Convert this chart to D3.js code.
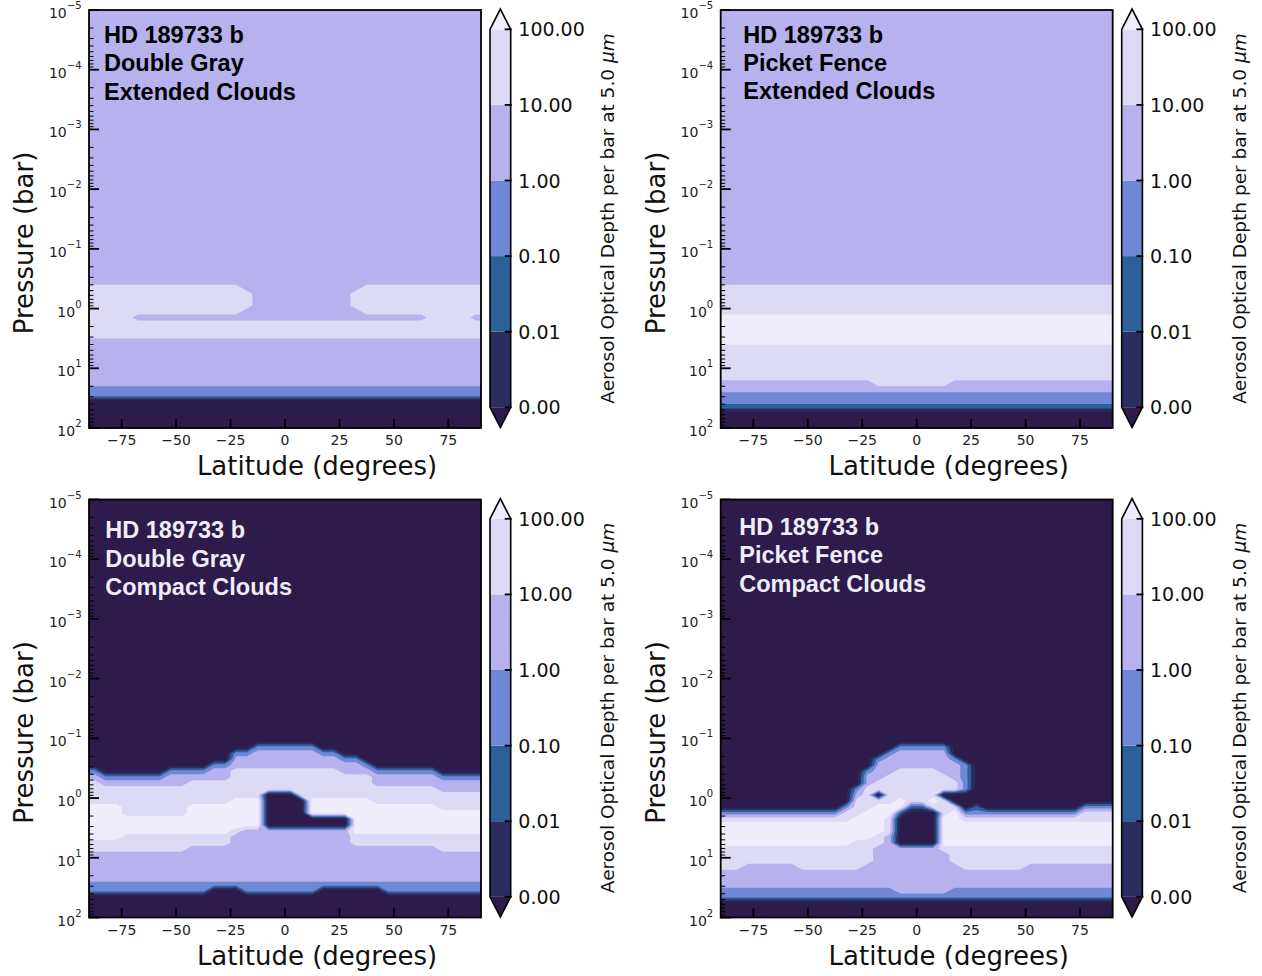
<!DOCTYPE html>
<html>
<head>
<meta charset="utf-8">
<script src="https://cdn.jsdelivr.net/npm/d3@7"></script>
<style>
  body { margin: 0; background: #fff; }
  svg { display: block; font-family: "DejaVu Sans", sans-serif; }
</style>
</head>
<body>
<div id="chart"></div>
<script>
// cell edges of the grid: latitude (deg) and log10 pressure (bar)
// the first pressure row spans the whole (uniform) upper atmosphere
const latEdges = [-90, -85, -80, -75, -70, -65, -60, -55, -50, -45, -40, -35, -30, -25, -20, -15, -10, -5,
  0, 5, 10, 15, 20, 25, 30, 35, 40, 45, 50, 55, 60, 65, 70, 75, 80, 85, 90];
const logPEdges = [-5, -1.5, -1.4, -1.3, -1.2, -1.1, -1.0, -0.9, -0.8, -0.7, -0.6, -0.5, -0.4, -0.3, -0.2, -0.1,
  0, 0.1, 0.2, 0.3, 0.4, 0.5, 0.6, 0.7, 0.8, 0.9, 1.0, 1.1, 1.2, 1.3, 1.4, 1.5, 1.6, 1.7, 1.8, 1.9, 2.0];

// colour levels of the optical depth (per bar at 5 micron)
const levels = [0.001, 0.01, 0.1, 1, 10, 100];
const bandColors = ["#2c1b4b", "#2a2d5e", "#2d5f99", "#6e88d6", "#b7b1ee", "#dddaf6", "#efedfb"];

const latTicks = [-75, -50, -25, 0, 25, 50, 75];
const pressureTicks = [1e-5, 1e-4, 1e-3, 1e-2, 1e-1, 1, 10, 100];

// band index read off each cell (0 = below 0.001 ... 6 = above 100), one string per pressure row,
// columns grouped by 30 degrees of latitude
const gridDoubleGrayExtended = [
  "444444 444444 444444 444444 444444 444444",
  "444444 444444 444444 444444 444444 444444",
  "444444 444444 444444 444444 444444 444444",
  "444444 444444 444444 444444 444444 444444",
  "444444 444444 444444 444444 444444 444444",
  "444444 444444 444444 444444 444444 444444",
  "444444 444444 444444 444444 444444 444444",
  "444444 444444 444444 444444 444444 444444",
  "444444 444444 444444 444444 444444 444444",
  "444444 444444 444444 444444 444444 444444",
  "444444 444444 444444 444444 444444 444444",
  "444444 444444 444444 444444 444444 444444",
  "555555 555555 554444 444444 455555 555555",
  "555555 555555 555444 444444 555555 555555",
  "555555 555555 555444 444444 555555 555555",
  "555555 555555 555444 444444 555555 555555",
  "555555 555555 554444 444444 455555 555555",
  "555544 444444 444444 444444 444444 455554",
  "555555 555555 555555 555555 555555 555555",
  "555555 555555 555555 555555 555555 555555",
  "555555 555555 555555 555555 555555 555555",
  "444444 444444 444444 444444 444444 444444",
  "444444 444444 444444 444444 444444 444444",
  "444444 444444 444444 444444 444444 444444",
  "444444 444444 444444 444444 444444 444444",
  "444444 444444 444444 444444 444444 444444",
  "444444 444444 444444 444444 444444 444444",
  "444444 444444 444444 444444 444444 444444",
  "444444 444444 444444 444444 444444 444444",
  "333333 333333 333333 333333 333333 333333",
  "333333 333333 333333 333333 333333 333333",
  "000000 000000 000000 000000 000000 000000",
  "000000 000000 000000 000000 000000 000000",
  "000000 000000 000000 000000 000000 000000",
  "000000 000000 000000 000000 000000 000000",
  "000000 000000 000000 000000 000000 000000"
];

const gridPicketFenceExtended = [
  "444444 444444 444444 444444 444444 444444",
  "444444 444444 444444 444444 444444 444444",
  "444444 444444 444444 444444 444444 444444",
  "444444 444444 444444 444444 444444 444444",
  "444444 444444 444444 444444 444444 444444",
  "444444 444444 444444 444444 444444 444444",
  "444444 444444 444444 444444 444444 444444",
  "444444 444444 444444 444444 444444 444444",
  "444444 444444 444444 444444 444444 444444",
  "444444 444444 444444 444444 444444 444444",
  "444444 444444 444444 444444 444444 444444",
  "444444 444444 444444 444444 444444 444444",
  "555555 555555 555555 555555 555555 555555",
  "555555 555555 555555 555555 555555 555555",
  "555555 555555 555555 555555 555555 555555",
  "555555 555555 555555 555555 555555 555555",
  "555555 555555 555555 555555 555555 555555",
  "666666 666666 666666 666666 666666 666666",
  "666666 666666 666666 666666 666666 666666",
  "666666 666666 666666 666666 666666 666666",
  "666666 666666 666666 666666 666666 666666",
  "666666 666666 666666 666666 666666 666666",
  "555555 555555 555555 555555 555555 555555",
  "555555 555555 555555 555555 555555 555555",
  "555555 555555 555555 555555 555555 555555",
  "555555 555555 555555 555555 555555 555555",
  "555555 555555 555555 555555 555555 555555",
  "555555 555555 555555 555555 555555 555555",
  "444444 444444 445555 555444 444444 444444",
  "444444 444444 444444 444444 444444 444444",
  "333333 333333 333333 333333 333333 333333",
  "333333 333333 333333 333333 333333 333333",
  "222222 222222 222222 222222 222222 222222",
  "000000 000000 000000 000000 000000 000000",
  "000000 000000 000000 000000 000000 000000",
  "000000 000000 000000 000000 000000 000000"
];

const gridDoubleGrayCompact = [
  "000000 000000 000000 000000 000000 000000",
  "000000 000000 000000 000000 000000 000000",
  "000000 000000 000000 000000 000000 000000",
  "000000 000000 000000 000000 000000 000000",
  "000000 000000 000000 000000 000000 000000",
  "000000 000000 000000 000000 000000 000000",
  "000000 000000 000000 000000 000000 000000",
  "000000 000000 000333 333000 000000 000000",
  "000000 000000 033444 444330 000000 000000",
  "000000 000000 044444 444443 300000 000000",
  "000000 000003 344444 444444 430000 000000",
  "300000 033334 455555 555554 443333 330000",
  "433333 344444 455555 555555 554444 443333",
  "544444 444555 555555 555555 554444 444444",
  "555555 555555 555555 555555 555555 554444",
  "555555 555555 555500 055555 555555 555555",
  "555555 555555 566600 006666 665555 555555",
  "666555 555666 666600 006666 666666 665555",
  "666555 555666 666600 006666 666666 666666",
  "666666 666666 666600 000000 666666 666666",
  "666666 666666 666600 000000 666666 666666",
  "666666 666666 654444 444444 666666 666666",
  "666555 555555 544444 444444 555555 555555",
  "555555 555555 544444 444444 555555 555555",
  "555555 555444 444444 444444 444444 445555",
  "444444 444444 444444 444444 444444 444444",
  "444444 444444 444444 444444 444444 444444",
  "444444 444444 444444 444444 444444 444444",
  "444444 444444 444444 444444 444444 444444",
  "444444 444444 444444 444444 444444 444444",
  "333333 333333 333333 333333 333333 333333",
  "333333 333330 003333 333000 000333 333333",
  "000000 000000 000000 000000 000000 000000",
  "000000 000000 000000 000000 000000 000000",
  "000000 000000 000000 000000 000000 000000",
  "000000 000000 000000 000000 000000 000000"
];

const gridPicketFenceCompact = [
  "000000 000000 000000 000000 000000 000000",
  "000000 000000 000000 000000 000000 000000",
  "000000 000000 000000 000000 000000 000000",
  "000000 000000 000000 000000 000000 000000",
  "000000 000000 000000 000000 000000 000000",
  "000000 000000 000000 000000 000000 000000",
  "000000 000000 000000 000000 000000 000000",
  "000000 000000 000033 333000 000000 000000",
  "000000 000000 000344 444000 000000 000000",
  "000000 000000 003444 444300 000000 000000",
  "000000 000000 004444 444430 000000 000000",
  "000000 000000 034455 554430 000000 000000",
  "000000 000000 044555 555430 000000 000000",
  "000000 000000 045555 555530 000000 000000",
  "000000 000000 355555 555530 000000 000000",
  "000000 000000 450555 550000 000000 000000",
  "000000 000000 555565 565000 000000 000000",
  "000000 000003 556662 255502 000000 000333",
  "333333 333335 566620 005633 333333 333555",
  "555555 555555 666500 006655 555555 555555",
  "666666 666666 666500 006666 666666 666666",
  "666666 666666 666500 006666 666666 666666",
  "666666 666666 665400 006666 666666 666666",
  "666666 666666 555400 006666 666666 666666",
  "555555 555555 554444 445555 555555 555555",
  "555555 555555 554444 444555 555555 555555",
  "555555 555555 554444 444555 555555 555555",
  "554444 455555 544444 444455 555544 444444",
  "444444 444444 444444 444444 444444 444444",
  "444444 444444 444444 444444 444444 444444",
  "444444 444444 444444 444444 444444 444444",
  "333333 333333 333344 444333 333333 333333",
  "333333 333333 333333 333333 333333 333333",
  "000000 000000 000000 000000 000000 000000",
  "000000 000000 000000 000000 000000 000000",
  "000000 000000 000000 000000 000000 000000"
];

const panels = [
  { grid: gridDoubleGrayExtended, title: ["HD 189733 b", "Double Gray", "Extended Clouds"],
    titleColor: "#000", left: 89, top: 10, tx: 15, ty: 33 },
  { grid: gridPicketFenceExtended, title: ["HD 189733 b", "Picket Fence", "Extended Clouds"],
    titleColor: "#000", left: 720.7, top: 10, tx: 22.6, ty: 32.7 },
  { grid: gridDoubleGrayCompact, title: ["HD 189733 b", "Double Gray", "Compact Clouds"],
    titleColor: "#eeedf8", left: 89, top: 499.5, tx: 16.3, ty: 38.8 },
  { grid: gridPicketFenceCompact, title: ["HD 189733 b", "Picket Fence", "Compact Clouds"],
    titleColor: "#eeedf8", left: 720.7, top: 499.5, tx: 18.6, ty: 35.5 }
];

const width = 1262;
const height = 976;
const plotW = 392;
const plotH = 418;

const svg = d3.select("#chart")
  .append("svg")
  .attr("width", width)
  .attr("height", height);

const nx = latEdges.length - 1;
const ny = logPEdges.length - 1;
// grid index -> data coordinate (extrapolates for the padding ring)
const colToLat = d3.scaleLinear().domain(d3.range(nx + 1)).range(latEdges);
const rowToLogP = d3.scaleLinear().domain(d3.range(ny + 1)).range(logPEdges);
const thresholds = bandColors.map((c, k) => k - 0.5);

// repeat the outer cells once so marching squares doesn't cut the plot corners
const padGrid = (rows) => {
  const cells = rows.map((r) => r.replace(/ /g, "").split("").map(Number));
  const wide = cells.map((r) => [r[0], ...r, r[r.length - 1]]);
  return [wide[0], ...wide, wide[wide.length - 1]].flat();
};

const superMinus = (n) => (n < 0 ? "\u2212" + (-n) : String(n));
const isDecade = (v) => Math.abs(Math.log10(v) - Math.round(Math.log10(v))) < 1e-9;

panels.forEach((p, i) => {
  const x = d3.scaleLinear().domain([-90, 90]).range([0, plotW]);
  const y = d3.scaleLog().domain([1e-5, 1e2]).range([0, plotH]);

  const g = svg.append("g").attr("transform", `translate(${p.left},${p.top})`);

  g.append("clipPath")
    .attr("id", "clip" + i)
    .append("rect")
    .attr("width", plotW)
    .attr("height", plotH);

  const values = padGrid(p.grid);
  const contours = d3.contours().size([nx + 2, ny + 2]).thresholds(thresholds)(values);

  const path = d3.geoPath(d3.geoTransform({
    point(cx, cy) {
      this.stream.point(x(colToLat(cx - 1)), y(Math.pow(10, rowToLogP(cy - 1))));
    }
  }));

  g.append("g")
    .attr("clip-path", `url(#clip${i})`)
    .selectAll("path")
    .data(contours)
    .join("path")
    .attr("fill", (d, k) => bandColors[k])
    .attr("d", path);

  // title
  g.append("text")
    .attr("font-family", "'Liberation Sans', Arial, sans-serif")
    .attr("font-weight", "bold")
    .attr("font-size", 23.5)
    .attr("fill", p.titleColor)
    .selectAll("tspan")
    .data(p.title)
    .join("tspan")
    .attr("x", p.tx)
    .attr("y", (d, k) => p.ty + k * 28.3)
    .text((d) => d);

  // minor log ticks
  g.append("g")
    .selectAll("line")
    .data(y.ticks().filter((v) => !isDecade(v)))
    .join("line")
    .attr("x1", 0)
    .attr("x2", 4.5)
    .attr("y1", (d) => y(d))
    .attr("y2", (d) => y(d))
    .attr("stroke", "#000")
    .attr("stroke-width", 1);

  // major y ticks
  g.append("g")
    .selectAll("line")
    .data(pressureTicks)
    .join("line")
    .attr("x1", 0)
    .attr("x2", 10)
    .attr("y1", (d) => y(d))
    .attr("y2", (d) => y(d))
    .attr("stroke", "#000")
    .attr("stroke-width", 1.8);

  const yLabels = g.append("g")
    .selectAll("text")
    .data(pressureTicks)
    .join("text")
    .attr("x", -7.5)
    .attr("y", (d) => y(d) + 8)
    .attr("text-anchor", "end")
    .attr("fill", "#222");
  yLabels.append("tspan").attr("font-size", 14).text("10");
  yLabels.append("tspan")
    .attr("font-size", 10)
    .attr("dy", -9)
    .text((d) => superMinus(Math.round(Math.log10(d))));

  // x ticks
  g.append("g")
    .selectAll("line")
    .data(latTicks)
    .join("line")
    .attr("x1", (d) => x(d))
    .attr("x2", (d) => x(d))
    .attr("y1", plotH)
    .attr("y2", plotH - 9)
    .attr("stroke", "#000")
    .attr("stroke-width", 1.8);

  g.append("g")
    .selectAll("text")
    .data(latTicks)
    .join("text")
    .attr("x", (d) => x(d))
    .attr("y", plotH + 17)
    .attr("text-anchor", "middle")
    .attr("font-size", 14)
    .attr("fill", "#222")
    .text(d3.format("d"));

  // frame
  g.append("rect")
    .attr("width", plotW)
    .attr("height", plotH)
    .attr("fill", "none")
    .attr("stroke", "#000")
    .attr("stroke-width", 1.8);

  g.append("text")
    .attr("x", 228)
    .attr("y", plotH + 47)
    .attr("text-anchor", "middle")
    .attr("font-size", 26)
    .attr("fill", "#111")
    .text("Latitude (degrees)");

  g.append("text")
    .attr("transform", `translate(-55.7,233) rotate(-90)`)
    .attr("text-anchor", "middle")
    .attr("font-size", 26)
    .attr("fill", "#111")
    .text("Pressure (bar)");

  // colorbar
  const cbX = 401;
  const cbW = 20.7;
  const cbTop = 19.3;
  const cbBottom = 397.3;
  const tip = 20.2;
  const cb = d3.scaleLog().domain([levels[0], levels[levels.length - 1]]).range([cbBottom, cbTop]);
  const cbg = g.append("g");

  cbg.selectAll("rect")
    .data(d3.pairs(levels))
    .join("rect")
    .attr("x", cbX)
    .attr("width", cbW)
    .attr("y", (d) => cb(d[1]))
    .attr("height", (d) => cb(d[0]) - cb(d[1]))
    .attr("fill", (d, k) => bandColors[k + 1]);

  cbg.append("path")
    .attr("d", `M${cbX},${cb(levels[levels.length - 1])}L${cbX + cbW / 2},${cbTop - tip}L${cbX + cbW},${cb(levels[levels.length - 1])}Z`)
    .attr("fill", bandColors[bandColors.length - 1]);
  cbg.append("path")
    .attr("d", `M${cbX},${cb(levels[0])}L${cbX + cbW / 2},${cbBottom + tip}L${cbX + cbW},${cb(levels[0])}Z`)
    .attr("fill", bandColors[0]);

  cbg.append("path")
    .attr("d", `M${cbX},${cbTop}L${cbX + cbW / 2},${cbTop - tip}L${cbX + cbW},${cbTop}` +
      `L${cbX + cbW},${cbBottom}L${cbX + cbW / 2},${cbBottom + tip}L${cbX},${cbBottom}Z`)
    .attr("fill", "none")
    .attr("stroke", "#000")
    .attr("stroke-width", 1.6);

  cbg.selectAll("line")
    .data(levels)
    .join("line")
    .attr("x1", cbX + cbW - 6)
    .attr("x2", cbX + cbW + 1)
    .attr("y1", (d) => cb(d))
    .attr("y2", (d) => cb(d))
    .attr("stroke", "#000")
    .attr("stroke-width", 1.8);

  cbg.selectAll("text.cbtick")
    .data(levels)
    .join("text")
    .attr("class", "cbtick")
    .attr("x", cbX + cbW + 7.6)
    .attr("y", (d) => cb(d) + 7)
    .attr("font-size", 19)
    .attr("fill", "#111")
    .text(d3.format(".2f"));

  const cbLabel = cbg.append("text")
    .attr("transform", `translate(${cbX + 124},208.5) rotate(-90)`)
    .attr("text-anchor", "middle")
    .attr("font-size", 18.5)
    .attr("fill", "#111");
  cbLabel.append("tspan").text("Aerosol Optical Depth per bar at 5.0 ");
  cbLabel.append("tspan").attr("font-style", "italic").text("\u03bcm");
});
</script>
</body>
</html>
